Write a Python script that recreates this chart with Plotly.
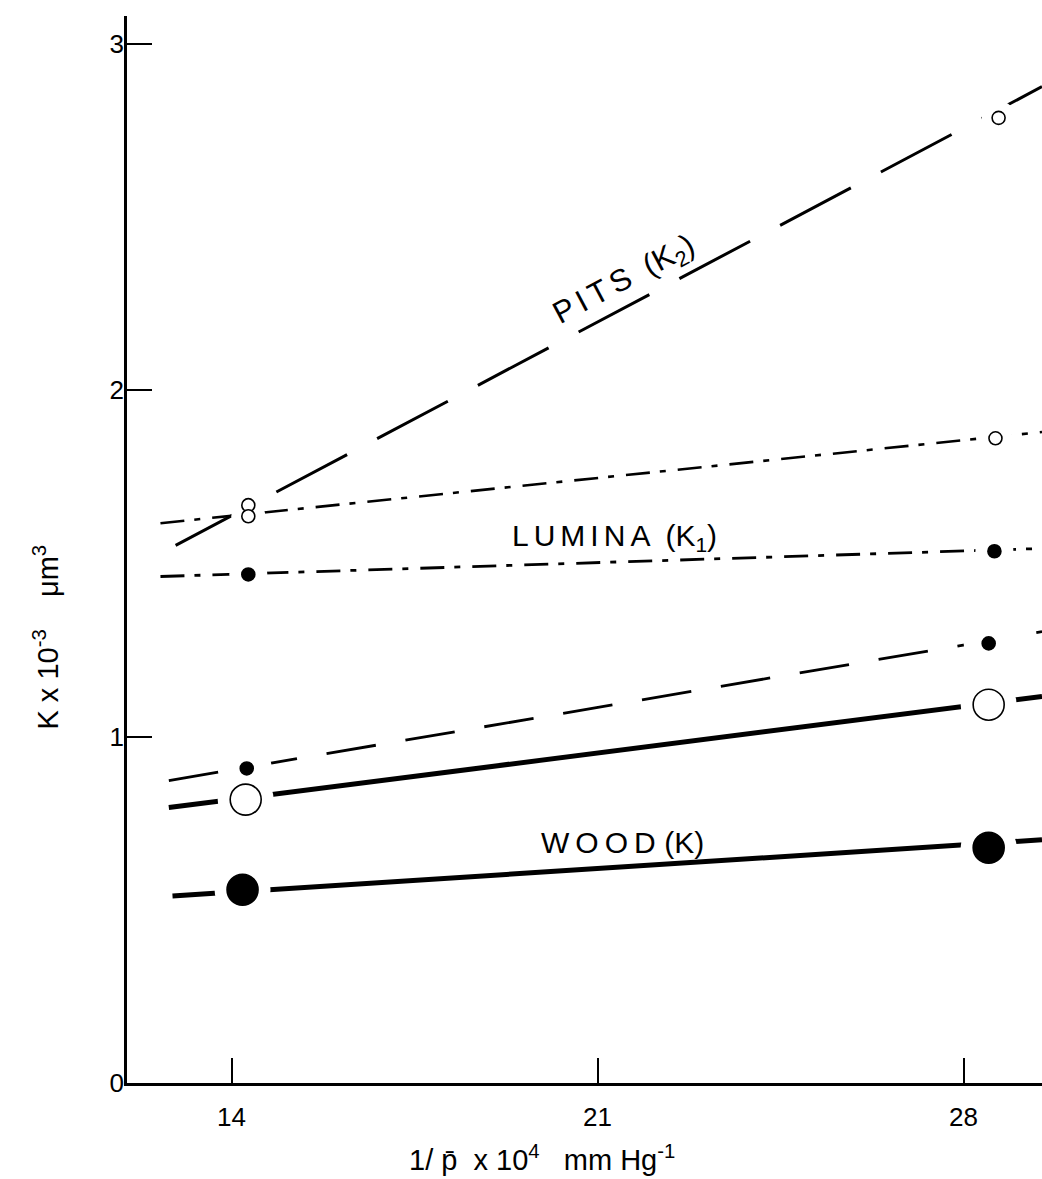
import plotly.graph_objects as go

# ---- data ----
x_ticks = [14, 21, 28]
y_ticks = [0, 1, 2, 3]

# measured points (x = 1/p * 1e4, y = K * 1e-3)
pits_x = [14.32, 28.67]
pits_y = [1.668, 2.786]
upper_x = [14.32, 28.61]
upper_y = [1.636, 1.861]
lumina_x = [14.32, 28.59]
lumina_y = [1.468, 1.535]
mid_x = [14.29, 28.48]
mid_y = [0.908, 1.269]
thick_x = [14.27, 28.48]
thick_y = [0.818, 1.092]
wood_x = [14.21, 28.48]
wood_y = [0.558, 0.679]

# fitted lines (start / end)
pits_line_x = [12.93, 29.5]
pits_line_y = [1.552, 2.876]
upper_line_x = [12.64, 29.5]
upper_line_y = [1.616, 1.879]
lumina_line_x = [12.64, 29.5]
lumina_line_y = [1.462, 1.543]
mid_line_x = [12.80, 29.5]
mid_line_y = [0.873, 1.303]
thick_line_x = [12.80, 29.5]
thick_line_y = [0.795, 1.116]
wood_line_x = [12.87, 29.5]
wood_line_y = [0.540, 0.702]

FONT = "Liberation Sans, Arial, sans-serif"
TS = "\u2009"   # thin space
HS = "\u200a"   # hair space


def spaced(word, sep):
    return sep.join(word)


fig = go.Figure()

lines = [
    (pits_line_x, pits_line_y, 3, "80px,34px"),
    (upper_line_x, upper_line_y, 2.6, "24px,10px,6px,12px"),
    (lumina_line_x, lumina_line_y, 2.8, "24px,10px,6px,12px"),
    (mid_line_x, mid_line_y, 2.8, "50px,30px"),
    (thick_line_x, thick_line_y, 5, "solid"),
    (wood_line_x, wood_line_y, 5, "solid"),
]
for lx, ly, w, d in lines:
    fig.add_trace(go.Scatter(x=lx, y=ly, mode="lines",
                             line=dict(color="black", width=w, dash=d),
                             hoverinfo="skip", showlegend=False))

# white halos to break the lines around the markers
halos = [
    (pits_x, pits_y, 34),
    (upper_x, upper_y, 34),
    (lumina_x, lumina_y, 38),
    (mid_x, mid_y, 50),
    (thick_x, thick_y, 56),
    (wood_x, wood_y, 56),
]
for hx, hy, s in halos:
    fig.add_trace(go.Scatter(x=hx, y=hy, mode="markers",
                             marker=dict(color="white", size=s, line=dict(width=0)),
                             hoverinfo="skip", showlegend=False))

markers = [
    (pits_x, pits_y, 13, "white"),
    (upper_x, upper_y, 13, "white"),
    (lumina_x, lumina_y, 13, "black"),
    (mid_x, mid_y, 13, "black"),
    (thick_x, thick_y, 31, "white"),
    (wood_x, wood_y, 31, "black"),
]
for mx, my, s, c in markers:
    fig.add_trace(go.Scatter(x=mx, y=my, mode="markers",
                             marker=dict(color=c, size=s, line=dict(color="black", width=1.6)),
                             showlegend=False))

fig.add_annotation(x=21.52, y=2.316,
                   text=spaced("PITS", HS + HS) + "  (K<sub>2</sub>)", textangle=-28,
                   showarrow=False, font=dict(family=FONT, size=31, color="black"))
fig.add_annotation(x=21.33, y=1.575,
                   text=spaced("LUMINA", HS + HS) + "  (K<sub>1</sub>)",
                   showarrow=False, font=dict(family=FONT, size=30, color="black"))
fig.add_annotation(x=21.47, y=0.694,
                   text=spaced("WOOD", TS) + TS + HS + "(K)",
                   showarrow=False, font=dict(family=FONT, size=30, color="black"))

fig.add_annotation(xref="paper", yref="paper", x=0.4536, y=-0.0703,
                   xanchor="center", yanchor="middle",
                   text="1/ p\u0304  x 10<sup>4</sup>   mm Hg<sup>-1</sup>",
                   showarrow=False, font=dict(family=FONT, size=29, color="black"))
fig.add_annotation(xref="paper", yref="paper", x=-0.089, y=0.418, textangle=-90,
                   xanchor="center", yanchor="middle",
                   text="K x 10<sup>-3</sup>    \u03bcm<sup>3</sup>",
                   showarrow=False, font=dict(family=FONT, size=29, color="black"))

axis_common = dict(showgrid=False, zeroline=False, showline=True, linecolor="black",
                   linewidth=2.5, ticks="inside", ticklen=25, tickwidth=2.2,
                   tickcolor="black", tickfont=dict(family=FONT, size=26, color="black"))

fig.update_xaxes(range=[12.0, 29.5], tickvals=x_ticks, ticklabelstandoff=9, **axis_common)
fig.update_yaxes(range=[0, 3.08], tickvals=y_ticks, ticklabelstandoff=-5, **axis_common)

fig.update_layout(width=1042, height=1179, plot_bgcolor="white", paper_bgcolor="white",
                  margin=dict(l=127, r=0, t=16, b=96), showlegend=False)

fig.write_html("out.html", config={"displayModeBar": False},
               post_script="document.body.style.margin='0';document.body.style.overflow='hidden';")
